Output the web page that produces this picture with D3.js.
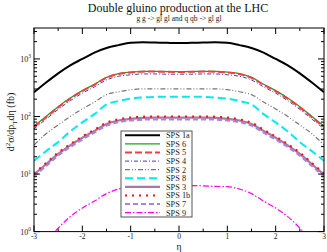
<!DOCTYPE html>
<html><head><meta charset="utf-8">
<script src="https://cdn.jsdelivr.net/npm/d3@7"></script>
<style>body{margin:0;background:#fff}svg{display:block}text{font-family:"Liberation Serif","DejaVu Serif",serif}</style>
</head><body><svg id="c" width="327" height="252"></svg>
<script>
const eta = [-3,-2.75,-2.5,-2.25,-2,-1.75,-1.5,-1.25,-1,-0.75,-0.5,-0.25,0,0.25,0.5,0.75,1,1.25,1.5,1.75,2,2.25,2.5,2.75,3];
const sps1a = [263,389,562,776,1000,1288,1549,1738,1905,1950,1928,1905,1884,1905,1928,1950,1905,1738,1549,1288,1000,776,562,389,263];
const sps6 = [68,100,148,209,282,363,479,556,589,610,610,603,603,603,610,610,589,556,479,363,282,209,148,100,68];
const sps5 = [66,97,144,204,276,356,470,547,580,602,603,597,596,597,603,602,580,547,470,356,276,204,144,97,66];
const sps4 = [61,90,133,188,254,327,431,500,530,549,549,543,543,543,549,549,530,500,431,327,254,188,133,90,61];
const sps2 = [32,50,71,100,135,178,240,269,292,302,302,302,302,302,302,302,292,269,240,178,135,100,71,50,32];
const sps8 = [17,25,36,55,79,110,162,186,204,214,219,221,221,221,219,214,204,186,162,110,79,55,36,25,17];
const sps3 = [9.8,14.8,22.4,31.6,42.7,56.2,74.1,85.1,91.2,94.4,95.5,95.5,95.5,95.5,95.5,94.4,91.2,85.1,74.1,56.2,42.7,31.6,22.4,14.8,9.8];
const sps1b = [10.2,15.5,23.4,33,44.7,58.9,77.6,89,95.5,98.9,100,100,100,100,100,98.9,95.5,89,77.6,58.9,44.7,33,23.4,15.5,10.2];
const sps7 = [9.1,13.8,20.9,29.5,39.8,52.5,69.2,79.4,85.1,88.1,89.1,89.1,89.1,89.1,89.1,88.1,85.1,79.4,69.2,52.5,39.8,29.5,20.9,13.8,9.1];
const sps9 = [0.35,0.66,1.15,1.82,2.57,3.39,4.57,5.5,6.03,6.1,6.24,6.3,6.3,6.3,6.24,6.1,6.03,5.5,4.57,3.39,2.57,1.82,1.15,0.66,0.35];
const seriesNames = ["SPS 1a","SPS 6","SPS 5","SPS 4","SPS 2","SPS 8","SPS 3","SPS 1b","SPS 7","SPS 9"];
const xTicks = [-3,-2,-1,0,1,2,3];
const yTicks = [1,10,100,1000];

const values = [sps1a,sps6,sps5,sps4,sps2,sps8,sps3,sps1b,sps7,sps9];
const styles = [
  {c:"#000000",w:2,d:null},
  {c:"#1fa01f",w:1.3,d:null},
  {c:"#f04040",w:2,d:"7,3"},
  {c:"#5a34b8",w:1,d:"4,2,1,2"},
  {c:"#777777",w:1.2,d:"5,2,1,2,1,2"},
  {c:"#00eaf0",w:2,d:"8,4"},
  {c:"#a87a9e",w:2.2,d:null},
  {c:"#ff1010",w:2.2,d:"2,5"},
  {c:"#a484e4",w:2,d:"5,3"},
  {c:"#ff00ff",w:1.2,d:"6,2,1.5,2"}
];

const svg = d3.select("#c");
const L=34, R=324, T=28, B=231.6;
const x = d3.scaleLinear().domain([-3,3]).range([L,R]);
const y = d3.scaleLog().domain([1,3450]).range([B,T]);

svg.append("defs").append("clipPath").attr("id","clip")
  .append("rect").attr("x",L).attr("y",T).attr("width",R-L).attr("height",B-T);

const line = d3.line().x((d,i)=>x(eta[i])).y(d=>y(d)).curve(d3.curveMonotoneX);
const g = svg.append("g").attr("clip-path","url(#clip)");
values.forEach((v,k)=>{
  const s=styles[k];
  g.append("path").attr("d",line(v)).attr("fill","none").attr("stroke",s.c)
   .attr("stroke-width",s.w).attr("stroke-dasharray",s.d);
});

// axes (inward ticks)
const ax = svg.append("g").attr("stroke","#000").attr("stroke-width",1);
const xMinor = d3.range(-2.5,3,1);
xTicks.forEach(t=>{
  ax.append("line").attr("x1",x(t)).attr("x2",x(t)).attr("y1",B).attr("y2",B-6);
  ax.append("line").attr("x1",x(t)).attr("x2",x(t)).attr("y1",T).attr("y2",T+6);
});
xMinor.forEach(t=>{
  ax.append("line").attr("x1",x(t)).attr("x2",x(t)).attr("y1",B).attr("y2",B-3);
  ax.append("line").attr("x1",x(t)).attr("x2",x(t)).attr("y1",T).attr("y2",T+3);
});
const yMinor = y.ticks().filter(t=>yTicks.indexOf(t)<0);
yTicks.forEach(t=>{
  ax.append("line").attr("x1",L).attr("x2",L+6).attr("y1",y(t)).attr("y2",y(t));
  ax.append("line").attr("x1",R).attr("x2",R-6).attr("y1",y(t)).attr("y2",y(t));
});
yMinor.forEach(t=>{
  ax.append("line").attr("x1",L).attr("x2",L+3).attr("y1",y(t)).attr("y2",y(t));
  ax.append("line").attr("x1",R).attr("x2",R-3).attr("y1",y(t)).attr("y2",y(t));
});
svg.append("rect").attr("x",L).attr("y",T).attr("width",R-L).attr("height",B-T)
  .attr("fill","none").attr("stroke","#000").attr("stroke-width",1);

// tick labels
xTicks.forEach(t=>{
  svg.append("text").attr("x",x(t)).attr("y",239.2).attr("text-anchor","middle")
   .attr("font-size",7.5).attr("fill","#222").text(t);
});
yTicks.forEach(t=>{
  const tx = svg.append("text").attr("x",31).attr("y",y(t)+3).attr("text-anchor","end")
   .attr("font-size",8).attr("fill","#222");
  tx.append("tspan").text("10");
  tx.append("tspan").attr("dy",-3.5).attr("font-size",5.5).text(Math.round(Math.log10(t)));
});

// titles
svg.append("text").attr("x",178).attr("y",11.5).attr("text-anchor","middle")
  .attr("font-size",12).attr("fill","#111").text("Double gluino production at the LHC");
svg.append("text").attr("x",179).attr("y",20.5).attr("text-anchor","middle")
  .attr("font-size",7.5).attr("fill","#222").text("g g -> gl gl and q qb -> gl gl");
svg.append("text").attr("x",179).attr("y",249.5).attr("text-anchor","middle")
  .attr("font-size",9.5).attr("fill","#111").text("η");
const yl = svg.append("text").attr("transform","translate(14,122) rotate(-90)")
  .attr("text-anchor","middle").attr("font-size",10).attr("fill","#111");
yl.append("tspan").text("d");
yl.append("tspan").attr("dy",-4).attr("font-size",7).text("2");
yl.append("tspan").attr("dy",4).text("σ/dp");
yl.append("tspan").attr("dy",2.5).attr("font-size",7).text("T");
yl.append("tspan").attr("dy",-2.5).text("dη (fb)");

// legend
const lg = svg.append("g");
lg.append("rect").attr("x",121).attr("y",131).attr("width",71).attr("height",86)
  .attr("fill","#fff").attr("stroke","#555").attr("stroke-width",1);
seriesNames.forEach((n,k)=>{
  const yy = 135.3 + k*8.6;
  const s = styles[k];
  lg.append("line").attr("x1",125).attr("x2",160).attr("y1",yy).attr("y2",yy)
    .attr("stroke",s.c).attr("stroke-width",s.w).attr("stroke-dasharray",s.d);
  lg.append("text").attr("x",166).attr("y",yy+2.9).attr("font-size",8.3).attr("fill","#222").text(n);
});
</script></body></html>
